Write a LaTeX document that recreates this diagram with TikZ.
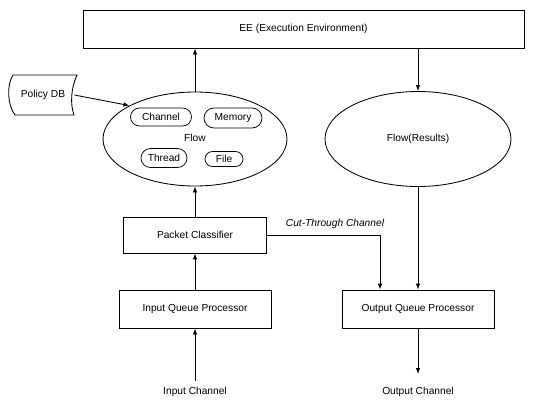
\documentclass[tikz,border=0pt]{standalone}
\usepackage{fontspec}
\setmainfont{Liberation Sans}
\usetikzlibrary{arrows.meta,shapes.misc,shapes.geometric}

\begin{document}
\begin{tikzpicture}[x=1pt,y=-1pt,
  font=\fontsize{10.2}{12}\selectfont,
  line width=0.85pt,
  box/.style={draw, rectangle, inner sep=0pt},
  oval/.style={draw, ellipse, inner sep=0pt},
  pill/.style={draw, rounded rectangle, inner sep=0pt, line width=0.75pt},
  label/.style={inner sep=1pt},
  flowarrow/.style={-{Latex[length=6pt,width=4.5pt]}}
]
\useasboundingbox (0,0) rectangle (534,399);

% execution environment
\node[box, minimum width=441pt, minimum height=38pt] (ee) at (303.5,29) {EE (Execution Environment)};

% flow with its resources
\node[oval, minimum width=184pt, minimum height=94pt] (flow) at (195,139) {};
\node[label] (flowtxt) at (195,138) {Flow};
\node[pill, minimum width=61pt, minimum height=18pt] (channel) at (161,117) {Channel};
\node[pill, minimum width=58pt, minimum height=20pt] (memory) at (233,118) {Memory};
\node[pill, minimum width=46pt, minimum height=19pt] (thread) at (164,158) {Thread};
\node[pill, minimum width=38pt, minimum height=15pt] (file) at (224,159) {File};

% flow results
\node[oval, minimum width=186pt, minimum height=95pt] (res) at (418,139) {Flow(Results)};

% policy database
\draw (13,75) -- (77,75) .. controls (71,88) and (70,104) .. (74,115)
      -- (15,115) .. controls (8,106) and (6,86) .. cycle;
\node[label, minimum width=62pt, minimum height=38pt] (policy) at (43,95) {Policy DB};

% processing stages
\node[box, minimum width=143pt, minimum height=36pt] (pc) at (195,235) {Packet Classifier};
\node[box, minimum width=152pt, minimum height=38pt] (iq) at (195,309) {Input Queue Processor};
\node[box, minimum width=152pt, minimum height=38pt] (oq) at (418,309) {Output Queue Processor};

% channels
\node[label] (inlbl) at (195,392) {Input Channel};
\node[label] (outlbl) at (418,392) {Output Channel};
\coordinate (inbeg) at (195,381);
\coordinate (outend) at (418,374);
\coordinate (cutdown) at (380,235);

% connectors
\draw[flowarrow] (flow.north) -- (flow.north |- ee.south);
\draw[flowarrow] (res.north |- ee.south) -- (res.north);
\draw[flowarrow] (policy.east) -- (flow.153);
\draw[flowarrow] (pc.north) -- (flow.south);
\draw[flowarrow] (iq.north) -- (pc.south);
\draw[flowarrow] (inbeg) -- (iq.south);
\draw[flowarrow] (res.south) -- (oq.north);
\draw[flowarrow] (oq.south) -- (outend);
\draw[flowarrow] (pc.east) -- (cutdown) -- (cutdown |- oq.north);
\node[label, font=\fontsize{10.2}{12}\selectfont\itshape] (cutlbl) at (335,224) {Cut-Through Channel};
\end{tikzpicture}
\end{document}
